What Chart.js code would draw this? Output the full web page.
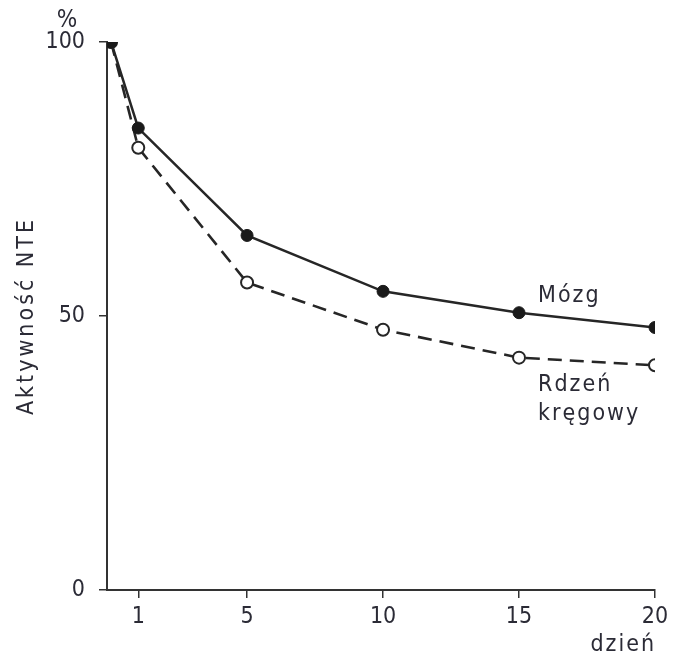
<!DOCTYPE html>
<html>
<head>
<meta charset="utf-8">
<script src="https://cdn.jsdelivr.net/npm/chart.js@4"></script>
<style>
  html, body { margin: 0; padding: 0; background: #fff; }
  #wrap { width: 681px; height: 658px; }
</style>
</head>
<body>
<div id="wrap"><canvas id="chart" width="681" height="658"></canvas></div>
<script>
// data
const days = [0, 1, 5, 10, 15, 20];
const mozg = [100, 84.3, 64.7, 54.5, 50.6, 47.9];
const rdzen = [100, 80.7, 56.1, 47.5, 42.4, 41.0];
const xTicks = [1, 5, 10, 15, 20];
const yTicks = [0, 50, 100];

const ink = '#2b2b36';
const fontFamily = '"DejaVu Sans Condensed", "DejaVu Sans", sans-serif';

function toPoints(values) {
    return days.map(function (d, i) { return { x: d, y: values[i] }; });
}

// axis titles, curve names and the % unit (drawn by hand for the wide letter spacing)
const labelPlugin = {
    id: 'curveLabels',
    afterDraw: function (chart) {
        const ctx = chart.ctx;
        const x = chart.scales.x;
        const y = chart.scales.y;
        const area = chart.chartArea;
        ctx.save();
        ctx.fillStyle = ink;
        ctx.letterSpacing = '2px';
        ctx.font = '23px ' + fontFamily;
        ctx.textAlign = 'left';
        ctx.textBaseline = 'middle';
        ctx.fillText('Mózg', x.getPixelForValue(15.7), y.getPixelForValue(53.6));
        ctx.fillText('Rdzeń', x.getPixelForValue(15.7), y.getPixelForValue(37.4));
        ctx.fillText('kręgowy', x.getPixelForValue(15.7), y.getPixelForValue(32.2));

        ctx.textAlign = 'right';
        ctx.fillText('dzień', area.right + 1, area.bottom + 55);

        ctx.textAlign = 'center';
        ctx.font = '24px ' + fontFamily;
        ctx.letterSpacing = '0px';
        ctx.fillText('%', area.left - 40, area.top - 21);

        ctx.translate(27, (area.top + area.bottom) / 2);
        ctx.rotate(-Math.PI / 2);
        ctx.letterSpacing = '3px';
        ctx.font = '23px ' + fontFamily;
        ctx.fillText('Aktywność NTE', 0, 0);
        ctx.restore();
    }
};

const ctx = document.getElementById('chart').getContext('2d');

new Chart(ctx, {
    type: 'line',
    data: {
        datasets: [
            {
                label: 'Mózg',
                data: toPoints(mozg),
                borderColor: '#262626',
                borderWidth: 2.5,
                backgroundColor: '#1a1a1a',
                pointBackgroundColor: '#1a1a1a',
                pointBorderColor: '#1a1a1a',
                pointRadius: 6,
                pointBorderWidth: 1,
                tension: 0,
                order: 1
            },
            {
                label: 'Rdzeń kręgowy',
                data: toPoints(rdzen),
                borderColor: '#262626',
                borderWidth: 2.6,
                borderDash: [14, 8],
                backgroundColor: '#ffffff',
                pointBackgroundColor: '#ffffff',
                pointBorderColor: '#262626',
                pointRadius: 6,
                pointBorderWidth: 2,
                tension: 0,
                order: 2
            }
        ]
    },
    options: {
        responsive: false,
        animation: false,
        layout: { padding: { left: 0, right: 26, top: 42, bottom: 0 } },
        plugins: {
            legend: { display: false },
            tooltip: { enabled: false }
        },
        scales: {
            x: {
                type: 'linear',
                min: -0.15,
                max: 20,
                afterBuildTicks: function (scale) {
                    scale.ticks = xTicks.map(function (v) { return { value: v }; });
                },
                afterFit: function (scale) { scale.height = 68; },
                border: { display: true, color: '#333', width: 2 },
                grid: {
                    drawOnChartArea: false,
                    drawTicks: true,
                    tickLength: 8,
                    color: '#333',
                    lineWidth: 1.5
                },
                ticks: {
                    color: ink,
                    font: { family: fontFamily, size: 23 },
                    padding: 5,
                    maxRotation: 0
                }
            },
            y: {
                type: 'linear',
                min: 0,
                max: 100,
                afterBuildTicks: function (scale) {
                    scale.ticks = yTicks.map(function (v) { return { value: v }; });
                },
                afterFit: function (scale) { scale.width = 107; },
                border: { display: true, color: '#333', width: 2 },
                grid: {
                    drawOnChartArea: false,
                    drawTicks: true,
                    tickLength: 8,
                    color: '#333',
                    lineWidth: 1.5
                },
                ticks: {
                    color: ink,
                    font: { family: fontFamily, size: 23 },
                    padding: 14
                }
            }
        }
    },
    plugins: [labelPlugin]
});
</script>
</body>
</html>
